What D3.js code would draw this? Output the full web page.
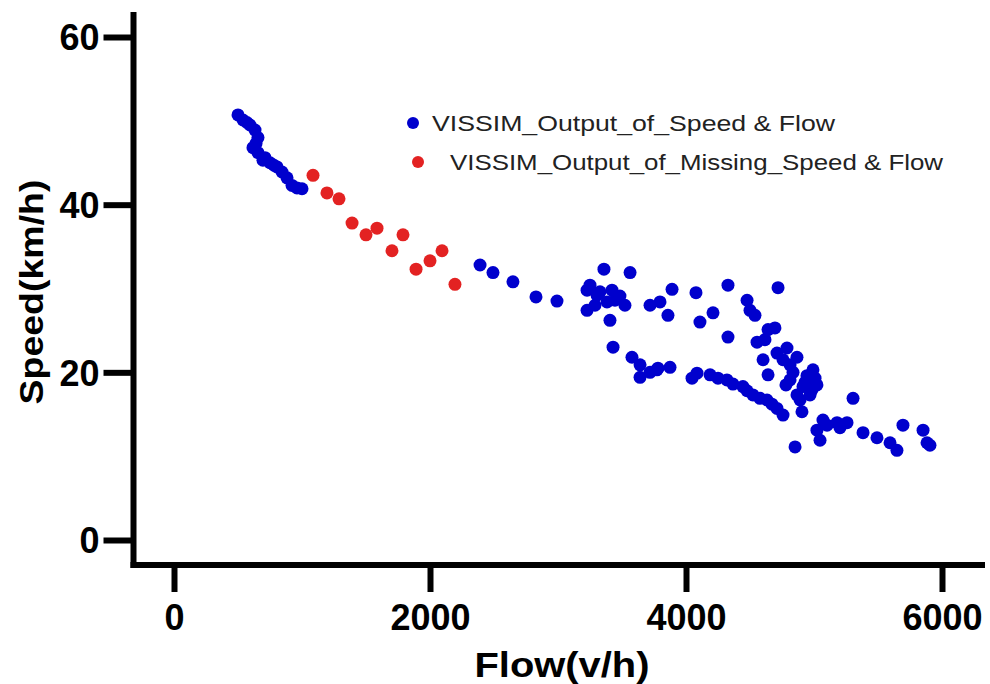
<!DOCTYPE html>
<html>
<head>
<meta charset="utf-8">
<script src="https://cdn.jsdelivr.net/npm/d3@7"></script>
<style>
  body { margin: 0; background: #fff; }
  svg { display: block; }
</style>
</head>
<body>
<div id="chart"></div>
<script>
// flow (v/h) and speed (km/h)
const observedFlow = [500, 539, 570, 594, 633, 656, 617, 641, 656, 695, 711, 750, 781, 805, 844, 883, 922, 961, 1000,
  2391, 2492, 2648, 2828, 2992, 3359, 3563, 3227, 3305, 3422, 3383, 3227, 3406, 3523, 3719, 3797, 3859, 3891, 4078,
  4328, 4211, 4109, 4328, 3430, 3578, 3641, 3719, 3641, 3781, 3875, 4047, 4188, 4320, 4445,
  4719, 4477, 4500, 4539, 4641, 4695, 4555, 4617, 4789, 4867, 4602, 4641, 4711, 4813, 4914, 4992, 5023, 4906, 5305,
  5070, 5180, 5258, 5047, 5383, 5492, 5594, 5648, 5695, 5852, 5883, 5906, 4852,
  3773, 4086, 4250, 4367, 4477, 4578, 4672, 4523, 4633, 4711, 4758,
  4836, 4945, 4984, 4867, 4781, 5023, 5102, 5203,
  3250, 3328, 3445, 3289, 3484, 4758, 4813, 4930, 4969, 5008, 4891]
const observedSpeed = [50.7, 50.1, 49.8, 49.5, 48.9, 48.0, 46.8, 47.3, 46.2, 45.3, 45.6, 45.0, 44.7, 44.5, 43.9, 43.2, 42.3, 42.0, 41.9,
  32.8, 31.9, 30.8, 29.0, 28.5, 32.3, 31.9, 29.8, 29.2, 29.8, 28.4, 27.4, 26.2, 28.0, 28.0, 28.4, 26.8, 29.9, 29.5,
  30.4, 27.1, 26.0, 24.2, 23.0, 21.8, 20.9, 20.0, 19.4, 20.5, 20.6, 19.3, 19.7, 19.1, 18.3,
  30.1, 28.6, 27.4, 26.8, 25.1, 25.3, 23.6, 23.9, 22.9, 21.8, 21.5, 19.7, 22.3, 19.1, 18.3, 20.3, 18.5, 15.3, 16.9,
  14.3, 14.0, 14.0, 11.9, 12.8, 12.2, 11.6, 10.7, 13.7, 13.1, 11.6, 11.3, 11.1,
  20.3, 19.9, 19.3, 18.6, 17.8, 16.9, 16.2, 17.3, 16.7, 15.7, 14.9,
  20.0, 19.6, 17.9, 17.3, 18.5, 13.1, 13.7, 13.4,
  30.4, 29.6, 28.6, 28.0, 29.1, 21.5, 20.9, 18.8, 17.3, 19.3, 16.7]

const missingFlow = [1086, 1195, 1289, 1391, 1500, 1586, 1703, 1789, 1891, 2000, 2094, 2195]
const missingSpeed = [43.5, 41.4, 40.7, 37.8, 36.4, 37.2, 34.5, 36.4, 32.3, 33.3, 34.5, 30.5]

const seriesNames = ['VISSIM_Output_of_Speed & Flow', 'VISSIM_Output_of_Missing_Speed & Flow']
const xTicks = [0, 2000, 4000, 6000]
const yTicks = [0, 20, 40, 60]

const W = 990, H = 684
const blue = '#0000cd', red = '#e32222'

const svg = d3.select('#chart').append('svg')
    .attr('width', W)
    .attr('height', H)

// scales pinned to where the ticks sit in the picture
const x = d3.scaleLinear().domain([0, 6000]).range([174, 942])
const y = d3.scaleLinear().domain([0, 60]).range([540, 37])

const font = 'Liberation Sans, Arial, sans-serif'

// y axis
const yAxis = svg.append('g')
    .attr('transform', 'translate(133.5,0)')
    .call(d3.axisLeft(y).tickValues(yTicks).tickSize(30).tickPadding(4).tickFormat(d3.format('d')))
yAxis.select('.domain').remove()
yAxis.selectAll('.tick line').attr('stroke', '#000').attr('stroke-width', 6)
yAxis.selectAll('.tick text')
    .attr('fill', '#000')
    .attr('dy', '0.36em')
    .style('font', `bold 36px ${font}`)

svg.append('line')
    .attr('x1', 133.5).attr('x2', 133.5)
    .attr('y1', 12).attr('y2', 568)
    .attr('stroke', '#000').attr('stroke-width', 6)

// x axis
const xAxis = svg.append('g')
    .attr('transform', 'translate(0,565)')
    .call(d3.axisBottom(x).tickValues(xTicks).tickSize(27).tickPadding(14).tickFormat(d3.format('d')))
xAxis.select('.domain').remove()
xAxis.selectAll('.tick line').attr('stroke', '#000').attr('stroke-width', 6)
xAxis.selectAll('.tick text')
    .attr('fill', '#000')
    .attr('dy', '0.68em')
    .style('font', `bold 36px ${font}`)

svg.append('line')
    .attr('x1', 130.5).attr('x2', 985)
    .attr('y1', 565).attr('y2', 565)
    .attr('stroke', '#000').attr('stroke-width', 6)

// axis titles
svg.append('text')
    .attr('x', 562).attr('y', 677)
    .attr('text-anchor', 'middle')
    .attr('textLength', 175)
    .attr('lengthAdjust', 'spacingAndGlyphs')
    .style('font', `bold 35px ${font}`)
    .text('Flow(v/h)')

svg.append('text')
    .attr('transform', 'translate(43,292) rotate(-90)')
    .attr('text-anchor', 'middle')
    .attr('textLength', 225)
    .attr('lengthAdjust', 'spacingAndGlyphs')
    .style('font', `bold 34px ${font}`)
    .text('Speed(km/h)')

// points
const observed = observedFlow.map((f, i) => ({flow: f, speed: observedSpeed[i]}))
const missing = missingFlow.map((f, i) => ({flow: f, speed: missingSpeed[i]}))

svg.append('g').selectAll('circle')
    .data(observed)
    .enter().append('circle')
    .attr('cx', d => x(d.flow))
    .attr('cy', d => y(d.speed))
    .attr('r', 6.5)
    .attr('fill', blue)

svg.append('g').selectAll('circle')
    .data(missing)
    .enter().append('circle')
    .attr('cx', d => x(d.flow))
    .attr('cy', d => y(d.speed))
    .attr('r', 6.5)
    .attr('fill', red)

// legend
const legend = [
    {name: seriesNames[0], color: blue, dx: 413, dy: 123, tx: 432, len: 403},
    {name: seriesNames[1], color: red, dx: 418, dy: 162, tx: 450, len: 493}
]
const lg = svg.append('g').selectAll('g')
    .data(legend)
    .enter().append('g')
lg.append('circle')
    .attr('cx', d => d.dx)
    .attr('cy', d => d.dy)
    .attr('r', 6)
    .attr('fill', d => d.color)
lg.append('text')
    .attr('x', d => d.tx)
    .attr('y', d => d.dy + 8)
    .attr('textLength', d => d.len)
    .attr('lengthAdjust', 'spacingAndGlyphs')
    .attr('fill', '#222')
    .style('font', `22px ${font}`)
    .text(d => d.name)
</script>
</body>
</html>
